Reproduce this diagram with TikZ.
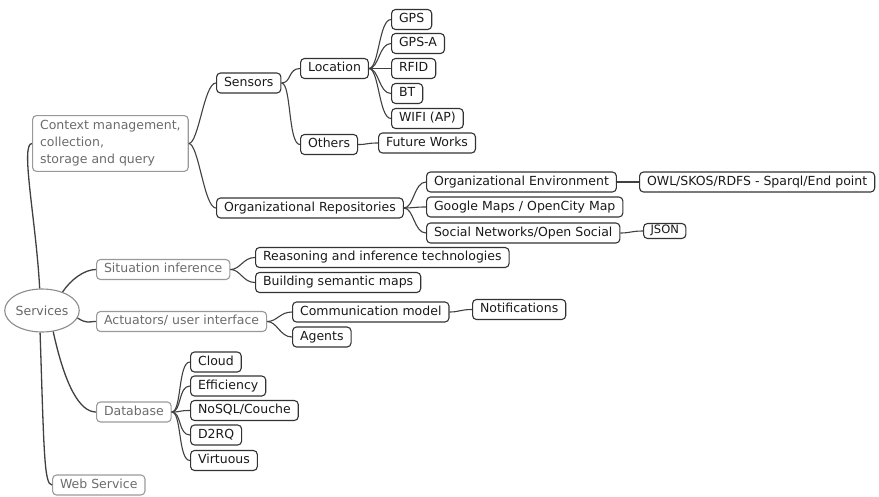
\documentclass[tikz,border=0pt]{standalone}
\usepackage{fontspec}
\setmainfont{DejaVu Sans}
\usepackage{tikz}
\usetikzlibrary{shapes.geometric}

\tikzset{
  box/.style={rectangle,rounded corners=4pt,line width=1.1pt,anchor=west,
    inner xsep=7.5pt,inner ysep=0pt,minimum height=20pt,
    text height=9pt,text depth=3pt,font=\fontsize{12.5}{15}\selectfont},
  topic/.style={box,draw=black!40,text=black!58},
  leaf/.style={box,draw=black!80,text=black!90},
  branch/.style={draw=black!75,line width=1.1pt,
    to path={.. controls +(10pt,0) and +(-12pt,0) .. (\tikztotarget)}},
  trunk/.style={draw=black!75,line width=1.3pt},
}

\begin{document}
\begin{tikzpicture}[x=1pt,y=1pt]

\useasboundingbox (0,0) rectangle (879,-496);

\node[ellipse,draw=black!45,text=black!60,line width=1.1pt,minimum width=70pt,minimum height=43pt,inner sep=0pt,font=\fontsize{12.5}{15}\selectfont] (serv) at (42,-310.5) {Services};

% first level
\node[topic,text height=,text depth=,inner ysep=5pt,align=left,font=\fontsize{12.5}{17}\selectfont] (ctx) at (32,-143.5) {Context management,\\collection,\\storage and query};
\node[topic] (sit) at (96,-269.5) {Situation inference};
\node[topic] (act) at (96,-321.5) {Actuators/ user interface};
\node[topic] (db) at (96,-412) {Database};
\node[topic] (web) at (52,-485) {Web Service};

\draw[trunk] (serv.96) .. controls (36,-220) and (20,-143.5) .. (ctx.west);
\draw[trunk] (serv.42) .. controls +(8,12) and +(-12,0) .. (sit.west);
\draw[trunk] (serv.-12) .. controls +(10,-6) and +(-8,0) .. (act.west);
\draw[trunk] (serv.-62) .. controls +(12,-55) and +(-16,0) .. (db.west);
\draw[trunk] (serv.-95) .. controls (44,-450) and (44,-485) .. (web.west);

% context management
\node[leaf] (sens) at (216,-83) {Sensors};
\node[leaf] (orgrep) at (216,-208) {Organizational Repositories};

\node[leaf] (loc) at (300,-68.5) {Location};
\node[leaf] (oth) at (300,-144.5) {Others};
\node[leaf] (fut) at (378,-143) {Future Works};

\node[leaf] (gps) at (391,-19.5) {GPS};
\node[leaf] (gpsa) at (391,-43.5) {GPS-A};
\node[leaf] (rfid) at (391,-68.5) {RFID};
\node[leaf] (bt) at (391,-93.5) {BT};
\node[leaf] (wifi) at (391,-118.5) {WIFI (AP)};

\node[leaf] (orgenv) at (426,-182) {Organizational Environment};
\node[leaf] (gmaps) at (426,-207) {Google Maps / OpenCity Map};
\node[leaf] (social) at (426,-233) {Social Networks/Open Social};
\node[leaf] (owl) at (639,-182) {OWL/SKOS/RDFS - Sparql/End point};
\node[leaf,minimum height=15pt,inner xsep=7pt,text height=8.3pt,text depth=2.5pt,font=\fontsize{11.5}{14}\selectfont] (json) at (643,-231) {JSON};

\draw[branch] (ctx.east) to (sens.west);
\draw[branch] (ctx.east) to (orgrep.west);
\draw[branch] (sens.east) to (loc.west);
\draw[branch] (sens.east) to (oth.west);
\draw[branch] (oth.east) to (fut.west);
\foreach \c in {gps,gpsa,rfid,bt,wifi}
  \draw[branch] (loc.east) to (\c.west);
\foreach \c in {orgenv,gmaps,social}
  \draw[branch] (orgrep.east) to (\c.west);
\draw[branch] (orgenv.east) to (owl.west);
\draw[branch] (social.east) to (json.west);

% situation inference
\node[leaf] (reas) at (255,-257.5) {Reasoning and inference technologies};
\node[leaf] (build) at (255,-282.5) {Building semantic maps};

\draw[branch] (sit.east) to (reas.west);
\draw[branch] (sit.east) to (build.west);

% actuators
\node[leaf] (comm) at (292,-312) {Communication model};
\node[leaf] (agents) at (292,-337) {Agents};
\node[leaf] (notif) at (472,-309.5) {Notifications};

\draw[branch] (act.east) to (comm.west);
\draw[branch] (act.east) to (agents.west);
\draw[branch] (comm.east) to (notif.west);

% database
\node[leaf] (cloud) at (190,-362) {Cloud};
\node[leaf] (eff) at (190,-386) {Efficiency};
\node[leaf] (nosql) at (190,-410.5) {NoSQL/Couche};
\node[leaf] (dtrq) at (190,-435) {D2RQ};
\node[leaf] (virt) at (190,-460.5) {Virtuous};

\foreach \c in {cloud,eff,nosql,dtrq,virt}
  \draw[branch] (db.east) to (\c.west);

\end{tikzpicture}
\end{document}
